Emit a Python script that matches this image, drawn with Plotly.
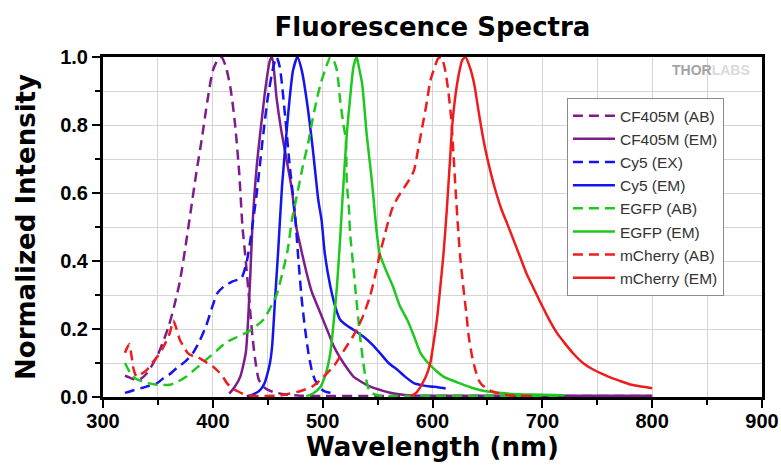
import plotly.graph_objects as go

# ---------------- data ----------------
cf405m_ab_x = [320, 325, 330, 335, 340, 345, 350, 355, 360, 365, 370, 375, 380, 385, 390, 395, 400, 405, 408,
               412, 416, 420, 424, 427, 430, 433, 436, 439, 442, 448, 455, 465, 480, 500, 550, 650, 800]
cf405m_ab_y = [0.063, 0.056, 0.05, 0.055, 0.07, 0.095, 0.125, 0.165, 0.21, 0.27, 0.34, 0.44, 0.55, 0.66, 0.76, 0.87, 0.96, 0.995, 1.0,
               0.97, 0.91, 0.81, 0.66, 0.50, 0.40, 0.29, 0.18, 0.10, 0.05, 0.025, 0.015, 0.008, 0.004, 0.003, 0.003, 0.003, 0.003]

cf405m_em_x = [415, 420, 425, 430, 432, 434, 436, 440, 444, 448, 452, 454, 458, 462, 467, 472, 476, 480, 485, 490,
               495, 500, 505, 510, 515, 520, 528, 535, 543, 555, 565, 575, 590, 620, 700, 800]
cf405m_em_y = [0.01, 0.03, 0.06, 0.13, 0.22, 0.35, 0.50, 0.68, 0.80, 0.91, 0.99, 1.0, 0.88, 0.79, 0.70, 0.61, 0.50, 0.44, 0.37, 0.31,
               0.27, 0.23, 0.19, 0.15, 0.12, 0.095, 0.06, 0.045, 0.031, 0.018, 0.01, 0.006, 0.004, 0.004, 0.004, 0.004]

cy5_ex_x = [320, 328, 336, 342, 349, 355, 360, 367, 375, 382, 388, 394, 399, 404, 410, 418, 426, 431, 435, 440,
            446, 450, 455, 458, 461, 466, 470, 475, 478, 481, 484, 487, 490, 493, 498, 503, 508]
cy5_ex_y = [0.012, 0.02, 0.027, 0.033, 0.04, 0.055, 0.065, 0.085, 0.105, 0.13, 0.165, 0.21, 0.26, 0.305, 0.325, 0.34, 0.35, 0.40, 0.48, 0.60,
            0.775, 0.88, 0.97, 1.0, 0.97, 0.82, 0.68, 0.53, 0.40, 0.285, 0.20, 0.13, 0.08, 0.05, 0.025, 0.015, 0.012]

cy5_em_x = [431, 437, 443, 447, 449, 452, 454, 456.6, 459.5, 463, 467, 470, 473, 477, 481, 485.6, 491, 496, 499, 502,
            507, 512, 516, 522, 528, 537, 545, 552, 560, 568, 575, 583, 590, 598, 605, 612]
cy5_em_y = [0.002, 0.008, 0.02, 0.04, 0.06, 0.10, 0.15, 0.285, 0.43, 0.62, 0.775, 0.88, 0.96, 1.0, 0.96, 0.87, 0.73, 0.58, 0.52, 0.42,
            0.325, 0.26, 0.227, 0.21, 0.198, 0.178, 0.155, 0.13, 0.10, 0.08, 0.06, 0.041, 0.035, 0.031, 0.029, 0.025]

egfp_ab_x = [320, 324, 327, 331, 336, 342, 349, 355, 361, 368, 376, 385, 394, 403, 412, 421, 431, 440, 446, 452,
             458, 463, 468, 472, 477, 482, 487, 491, 495, 498, 503, 507, 510, 513, 516, 519, 521, 522, 524, 525,
             528, 530, 534, 537, 539, 543, 550, 560, 600, 720]
egfp_ab_y = [0.10, 0.075, 0.06, 0.052, 0.046, 0.04, 0.036, 0.035, 0.036, 0.045, 0.06, 0.085, 0.11, 0.135, 0.16, 0.175, 0.19, 0.21, 0.227, 0.26,
             0.30, 0.36, 0.43, 0.52, 0.60, 0.68, 0.75, 0.82, 0.88, 0.92, 0.97, 1.0, 0.99, 0.96, 0.87, 0.80, 0.76, 0.63, 0.55, 0.48,
             0.38, 0.31, 0.18, 0.10, 0.06, 0.015, 0.005, 0.003, 0.003, 0.003]

egfp_em_x = [485, 492, 498, 503, 507, 510, 513, 516, 518, 522, 525, 528, 531, 533, 536, 540, 545, 549, 552, 558,
             564, 570, 577, 583, 589, 596, 604, 610, 617, 625, 635, 644, 656, 668, 690, 720]
egfp_em_y = [0.002, 0.012, 0.03, 0.07, 0.13, 0.22, 0.325, 0.47, 0.58, 0.775, 0.88, 0.97, 1.0, 0.97, 0.92, 0.775, 0.63, 0.49, 0.42, 0.37,
             0.325, 0.27, 0.227, 0.18, 0.13, 0.10, 0.075, 0.06, 0.05, 0.04, 0.028, 0.02, 0.014, 0.01, 0.007, 0.005]

mcherry_ab_x = [320, 322, 324, 326, 328, 330.5, 335, 340, 346, 352, 357, 361, 364, 367, 370, 374, 377, 381, 385, 390,
                395, 400, 405, 409, 413, 418, 422, 430, 440, 460, 470, 477, 482, 490, 498, 504, 510, 516, 522, 527,
                531, 537, 543, 548, 552, 556, 560, 564, 569, 573, 578, 583, 587, 591, 595, 598, 602, 605, 608, 611,
                614, 617, 619, 621, 623, 625, 628, 631, 633, 636, 639, 642, 645, 652, 659, 670, 690]
mcherry_ab_y = [0.13, 0.145, 0.155, 0.12, 0.08, 0.06, 0.068, 0.08, 0.105, 0.13, 0.16, 0.19, 0.225, 0.20, 0.168, 0.145, 0.13, 0.122, 0.12, 0.11,
                0.10, 0.09, 0.075, 0.06, 0.04, 0.025, 0.018, 0.006, 0.003, 0.004, 0.01, 0.015, 0.02, 0.03, 0.05, 0.07, 0.09, 0.12, 0.15, 0.175,
                0.198, 0.24, 0.295, 0.36, 0.42, 0.47, 0.52, 0.56, 0.59, 0.61, 0.635, 0.665, 0.73, 0.80, 0.87, 0.93, 0.97, 0.995, 1.0, 0.97,
                0.91, 0.82, 0.72, 0.61, 0.51, 0.42, 0.325, 0.24, 0.178, 0.12, 0.08, 0.05, 0.036, 0.02, 0.012, 0.005, 0.003]

mcherry_em_x = [580, 585, 589, 594, 598, 601, 604, 607, 610, 613, 616, 618, 621, 624, 627, 630, 634, 638, 641, 644,
                648, 653, 658, 663, 668, 674, 680, 686, 692, 698, 705, 713, 720, 729, 737, 745, 753, 760, 770, 780,
                790, 800]
mcherry_em_y = [0.002, 0.012, 0.03, 0.06, 0.10, 0.16, 0.227, 0.32, 0.42, 0.55, 0.70, 0.80, 0.89, 0.95, 0.99, 1.0, 0.97, 0.92, 0.86, 0.80,
                0.73, 0.66, 0.60, 0.55, 0.51, 0.46, 0.41, 0.36, 0.32, 0.28, 0.235, 0.19, 0.16, 0.125, 0.10, 0.083, 0.07, 0.06, 0.048, 0.037,
                0.031, 0.026]

x_tick_vals = [300, 400, 500, 600, 700, 800, 900]
y_tick_vals = [0.0, 0.2, 0.4, 0.6, 0.8, 1.0]

# ---------------- styling ----------------
PURPLE = "#7d1d8c"
BLUE = "#1414f0"
GREEN = "#1ec81e"
RED = "#ee1c1c"
DASH = "10px,6px"

series = [
    ("CF405M (AB)", cf405m_ab_x, cf405m_ab_y, PURPLE, DASH),
    ("CF405M (EM)", cf405m_em_x, cf405m_em_y, PURPLE, "solid"),
    ("Cy5 (EX)", cy5_ex_x, cy5_ex_y, BLUE, DASH),
    ("Cy5 (EM)", cy5_em_x, cy5_em_y, BLUE, "solid"),
    ("EGFP (AB)", egfp_ab_x, egfp_ab_y, GREEN, DASH),
    ("EGFP (EM)", egfp_em_x, egfp_em_y, GREEN, "solid"),
    ("mCherry (AB)", mcherry_ab_x, mcherry_ab_y, RED, DASH),
    ("mCherry (EM)", mcherry_em_x, mcherry_em_y, RED, "solid"),
]

fig = go.Figure()
for name, xs, ys, color, dash in series:
    fig.add_trace(go.Scatter(
        x=xs, y=ys, name=name, mode="lines",
        line=dict(color=color, width=2.5, dash=dash, shape="spline", smoothing=0.6),
    ))

TITLE_FONT = dict(family="DejaVu Sans", size=26, color="black", weight="bold")
TICK_FONT = dict(family="Liberation Sans, Arial", size=20, color="black", weight="bold")
GRID = "#d4d4d4"

fig.update_layout(
    width=781, height=465,
    margin=dict(l=103, r=19, t=57, b=68, autoexpand=False),
    paper_bgcolor="white", plot_bgcolor="white",
    title=dict(text="Fluorescence Spectra", font=TITLE_FONT, x=0.5, xref="paper",
               xanchor="center", y=0.943, yref="container", yanchor="middle", automargin=False),
    showlegend=True,
    legend=dict(x=0.704, y=0.879, xanchor="left", yanchor="top",
                bgcolor="white", bordercolor="#8c8c8c", borderwidth=1,
                font=dict(family="Liberation Sans, Arial", size=15.5, color="#333333"),
                tracegroupgap=0, itemwidth=42),
    xaxis=dict(
        range=[300, 900], tickvals=x_tick_vals, ticks="outside", ticklen=8, tickwidth=2,
        tickcolor="black", showline=True, linecolor="black", linewidth=3, mirror=True,
        showgrid=True, gridcolor=GRID, gridwidth=1, zeroline=False, automargin=False,
        minor=dict(dtick=50, tick0=300, ticks="outside", ticklen=5, tickwidth=2, tickcolor="black",
                   showgrid=True, gridcolor=GRID, gridwidth=1),
        tickfont=TICK_FONT, ticklabelstandoff=-4,
        title=dict(text="Wavelength (nm)", font=TITLE_FONT, standoff=7),
    ),
    yaxis=dict(
        range=[0, 1], tickvals=y_tick_vals, tickformat=".1f", ticks="outside", ticklen=8, tickwidth=2,
        tickcolor="black", showline=True, linecolor="black", linewidth=3, mirror=True,
        showgrid=True, gridcolor=GRID, gridwidth=1, zeroline=False, automargin=False,
        minor=dict(dtick=0.1, tick0=0, ticks="outside", ticklen=5, tickwidth=2, tickcolor="black",
                   showgrid=True, gridcolor=GRID, gridwidth=1),
        tickfont=TICK_FONT,
        title=dict(text="Normalized Intensity", font=TITLE_FONT, standoff=18),
    ),
    annotations=[dict(
        text="<b>THOR<span style='color:#dadada'>LABS</span></b>",
        x=0.985, y=0.962, xref="paper", yref="paper", xanchor="right", yanchor="middle",
        showarrow=False, font=dict(family="Liberation Sans, Arial", size=14, color="#a3a3a3"),
    )],
)

# the page's default body margin would shift the fixed-size figure; remove it
fig.write_html("out.html", config={"displayModeBar": False},
               post_script="document.body.style.margin='0';")
